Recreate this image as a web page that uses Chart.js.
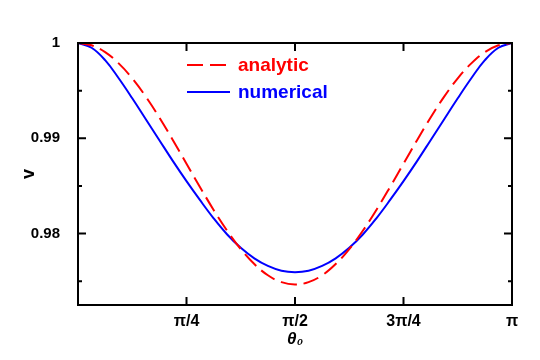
<!DOCTYPE html>
<html>
<head>
<meta charset="utf-8">
<script src="https://cdn.jsdelivr.net/npm/chart.js@4.4.0/dist/chart.umd.min.js"></script>
<style>
  html, body { margin: 0; padding: 0; background: #fff; }
  #wrap { width: 540px; height: 360px; }
</style>
</head>
<body>
<div id="wrap"><canvas id="vChart"></canvas></div>
<script>
// theta_0 in units of pi
const thetaOverPi = [0, 0.03125, 0.0625, 0.09375, 0.125, 0.15625, 0.1875, 0.21875, 0.25,
                     0.28125, 0.3125, 0.34375, 0.375, 0.40625, 0.4375, 0.46875, 0.5,
                     0.53125, 0.5625, 0.59375, 0.625, 0.65625, 0.6875, 0.71875, 0.75,
                     0.78125, 0.8125, 0.84375, 0.875, 0.90625, 0.9375, 0.96875, 1];
const analytic = [1, 0.99976, 0.99904, 0.99786, 0.99629, 0.99437, 0.99218, 0.98980, 0.98733,
                  0.98486, 0.98248, 0.98029, 0.97837, 0.97680, 0.97562, 0.97490, 0.97466,
                  0.97490, 0.97562, 0.97680, 0.97837, 0.98029, 0.98248, 0.98486, 0.98733,
                  0.98980, 0.99218, 0.99437, 0.99629, 0.99786, 0.99904, 0.99976, 1];
const numerical = [1, 0.9995, 0.9982, 0.9963, 0.9942, 0.9920, 0.9898, 0.9876, 0.9855,
                   0.9835, 0.9816, 0.9799, 0.9785, 0.9774, 0.9766, 0.9761, 0.97595,
                   0.9761, 0.9766, 0.9774, 0.9785, 0.9799, 0.9816, 0.9835, 0.9855,
                   0.9876, 0.9898, 0.9920, 0.9942, 0.9963, 0.9982, 0.9995, 1];

const xTickValues = [0, 0.25, 0.5, 0.75, 1];
const xTickLabels = ['', 'π/4', 'π/2', '3π/4', 'π'];
const yTickValues = [0.975, 0.98, 0.985, 0.99, 0.995, 1];
const yTickLabels = ['', '0.98', '', '0.99', '', '1'];

const toPoints = ys => ys.map((v, i) => ({x: thetaOverPi[i], y: v}));
const FONT = '"Liberation Sans", Arial, sans-serif';

// box + inward ticks on all four sides
const framePlugin = {
    id: 'frame',
    afterDatasetsDraw(chart) {
        const {ctx, chartArea: a, scales: {x, y}} = chart;
        ctx.save();
        ctx.strokeStyle = '#000';
        ctx.lineWidth = 2;
        ctx.strokeRect(a.left, a.top, a.right - a.left, a.bottom - a.top);
        ctx.beginPath();
        xTickValues.forEach(v => {
            const px = x.getPixelForValue(v);
            ctx.moveTo(px, a.bottom); ctx.lineTo(px, a.bottom - 8);
            ctx.moveTo(px, a.top); ctx.lineTo(px, a.top + 8);
        });
        yTickValues.forEach((v, i) => {
            const py = y.getPixelForValue(v);
            const len = yTickLabels[i] ? 8 : 4;
            ctx.moveTo(a.left, py); ctx.lineTo(a.left + len, py);
            ctx.moveTo(a.right, py); ctx.lineTo(a.right - len, py);
        });
        ctx.stroke();
        ctx.restore();
    }
};

// legend inside the plot
const innerLegend = {
    id: 'innerLegend',
    afterDraw(chart) {
        const {ctx, chartArea: a} = chart;
        ctx.save();
        ctx.font = 'bold 19px ' + FONT;
        ctx.textBaseline = 'middle';
        chart.data.datasets.forEach((ds, i) => {
            const yy = a.top + 22 + i * 27;
            const x0 = a.left + 109;
            ctx.strokeStyle = ds.borderColor;
            ctx.lineWidth = 2;
            ctx.setLineDash(ds.borderDash || []);
            ctx.beginPath();
            ctx.moveTo(x0, yy);
            ctx.lineTo(x0 + 43, yy);
            ctx.stroke();
            ctx.setLineDash([]);
            ctx.fillStyle = ds.borderColor;
            ctx.fillText(ds.label, x0 + 51, yy + 1);
        });
        ctx.restore();
    }
};

const ctx = document.getElementById('vChart').getContext('2d');
const vChart = new Chart(ctx, {
    type: 'scatter',
    data: {
        datasets: [{
            label: 'analytic',
            data: toPoints(analytic),
            showLine: true,
            borderColor: '#ff0000',
            borderWidth: 2,
            borderDash: [16, 7],
            pointRadius: 0,
            tension: 0.4
        }, {
            label: 'numerical',
            data: toPoints(numerical),
            showLine: true,
            borderColor: '#0000ff',
            borderWidth: 2,
            pointRadius: 0,
            tension: 0.4
        }]
    },
    options: {
        responsive: true,
        maintainAspectRatio: false,
        animation: false,
        layout: { padding: { left: 0, right: 28, top: 43, bottom: 0 } },
        plugins: {
            legend: { display: false },
            tooltip: { enabled: false }
        },
        scales: {
            x: {
                type: 'linear',
                min: 0,
                max: 1,
                afterBuildTicks: s => { s.ticks = xTickValues.map(v => ({value: v})); },
                afterFit: s => { s.height = 55; },
                grid: { display: false, drawTicks: false },
                border: { display: false },
                ticks: {
                    color: '#000',
                    padding: 7,
                    maxRotation: 0,
                    autoSkip: false,
                    font: { family: FONT, size: 16, weight: 'bold' },
                    callback: (v, i) => xTickLabels[i]
                },
                title: {
                    display: true,
                    text: 'θ₀',
                    color: '#000',
                    padding: { top: 0, bottom: 10 },
                    font: { family: FONT, size: 17, weight: 'bold', style: 'italic' }
                }
            },
            y: {
                min: 0.9725,
                max: 1,
                afterBuildTicks: s => { s.ticks = yTickValues.map(v => ({value: v})); },
                afterFit: s => { s.width = 78; },
                grid: { display: false, drawTicks: false },
                border: { display: false },
                ticks: {
                    color: '#000',
                    padding: 18,
                    autoSkip: false,
                    font: { family: FONT, size: 15, weight: 'bold' },
                    callback: (v, i) => yTickLabels[i]
                },
                title: {
                    display: true,
                    text: 'v',
                    color: '#000',
                    padding: { top: 18, bottom: 0 },
                    font: { family: FONT, size: 18, weight: 'bold' }
                }
            }
        }
    },
    plugins: [framePlugin, innerLegend]
});
</script>
</body>
</html>
